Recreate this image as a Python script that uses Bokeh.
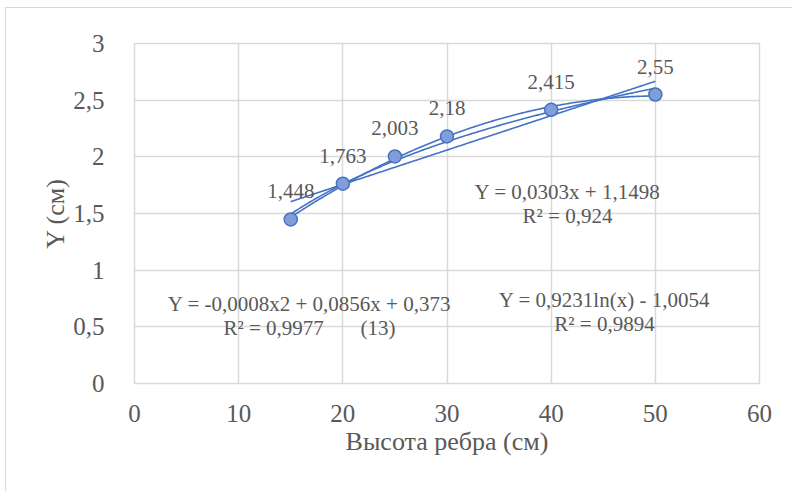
import numpy as np
from bokeh.plotting import figure
from bokeh.models import Label, FixedTicker, Range1d
from bokeh.embed import file_html
from bokeh.resources import INLINE

# data
heights = [15, 20, 25, 30, 40, 50]
y_values = [1.448, 1.763, 2.003, 2.18, 2.415, 2.55]
value_labels = ["1,448", "1,763", "2,003", "2,18", "2,415", "2,55"]
x_ticks = [0, 10, 20, 30, 40, 50, 60]
y_ticks = [0, 0.5, 1, 1.5, 2, 2.5, 3]
y_tick_labels = ["0", "0,5", "1", "1,5", "2", "2,5", "3"]
x_title = "Высота ребра (см)"
y_title = "Y (см)"

eq_linear = ["Y = 0,0303x + 1,1498", "R² = 0,924"]
eq_poly = ["Y = -0,0008x2 + 0,0856x + 0,373", "R² = 0,9977\u00a0\u00a0\u00a0\u00a0\u00a0\u00a0\u00a0(13)"]
eq_log = ["Y = 0,9231ln(x) - 1,0054", "R² = 0,9894"]

FONT = "Liberation Serif"
GRAY = "#595959"
BLUE = "#4472C4"

p = figure(width=787, height=484, output_backend="svg", toolbar_location=None,
           x_range=Range1d(0, 60), y_range=Range1d(0, 3),
           min_border_left=128, min_border_top=35, min_border_right=34, min_border_bottom=109,
           margin=(7, 0, 0, 5))
p.styles = {"border-left": "1px solid #d9d9d9", "border-top": "1px solid #d9d9d9"}
p.outline_line_color = "#d9d9d9"
p.outline_line_width = 1.5
p.background_fill_color = "white"
p.border_fill_color = "white"

for ax in (p.xaxis[0], p.yaxis[0]):
    ax.axis_line_color = None
    ax.major_tick_line_color = None
    ax.minor_tick_line_color = None
    ax.major_label_text_font = FONT
    ax.major_label_text_font_size = "25px"
    ax.major_label_text_color = GRAY
    ax.axis_label_text_font = FONT
    ax.axis_label_text_font_size = "26px"
    ax.axis_label_text_color = GRAY
    ax.axis_label_text_font_style = "normal"

p.xaxis.ticker = FixedTicker(ticks=x_ticks)
p.yaxis.ticker = FixedTicker(ticks=y_ticks)
p.yaxis.major_label_overrides = {t: l for t, l in zip(y_ticks, y_tick_labels)}
p.xaxis.major_label_standoff = 15
p.yaxis.major_label_standoff = 24
p.xaxis.axis_label = x_title
p.yaxis.axis_label = y_title
p.xaxis.axis_label_standoff = 2
p.yaxis.axis_label_standoff = 0

p.xgrid.grid_line_color = "#d9d9d9"
p.ygrid.grid_line_color = "#d9d9d9"
p.xgrid.grid_line_width = 1.5
p.ygrid.grid_line_width = 1.5

# trend lines fitted from the data (as Excel does)
xs = np.array(heights, dtype=float)
ys = np.array(y_values, dtype=float)
xf = np.linspace(xs.min(), xs.max(), 200)
lin = np.polyfit(xs, ys, 1)
quad = np.polyfit(xs, ys, 2)
logc = np.polyfit(np.log(xs), ys, 1)
p.line(xf, np.polyval(lin, xf), line_color=BLUE, line_width=1.6)
p.line(xf, np.polyval(quad, xf), line_color=BLUE, line_width=1.6)
p.line(xf, np.polyval(logc, np.log(xf)), line_color=BLUE, line_width=1.6)

p.scatter(heights, y_values, size=13, fill_color="#819ed9", line_color=BLUE, line_width=1.5)


def lab(text, x, y, size, units="data", yo=0):
    p.add_layout(Label(x=x, y=y, x_units=units, y_units=units, text=text, y_offset=yo,
                       text_font=FONT, text_font_size=size, text_color=GRAY,
                       text_align="center", text_baseline="middle"))


# data labels
for x, y, t in zip(heights, y_values, value_labels):
    lab(t, x, y, "21px", yo=28)


def eq(lines, x, y):
    for i, t in enumerate(lines):
        lab(t, x, y - i * 24, "21px", units="screen")


# screen coords relative to frame bottom-left (frame 625x340)
eq(eq_linear, 566 - 133, 382 - 190)
eq(eq_poly, 308 - 133, 382 - 302)
eq(eq_log, 603 - 133, 382 - 298)

open("out.html", "w").write(file_html(p, INLINE))
